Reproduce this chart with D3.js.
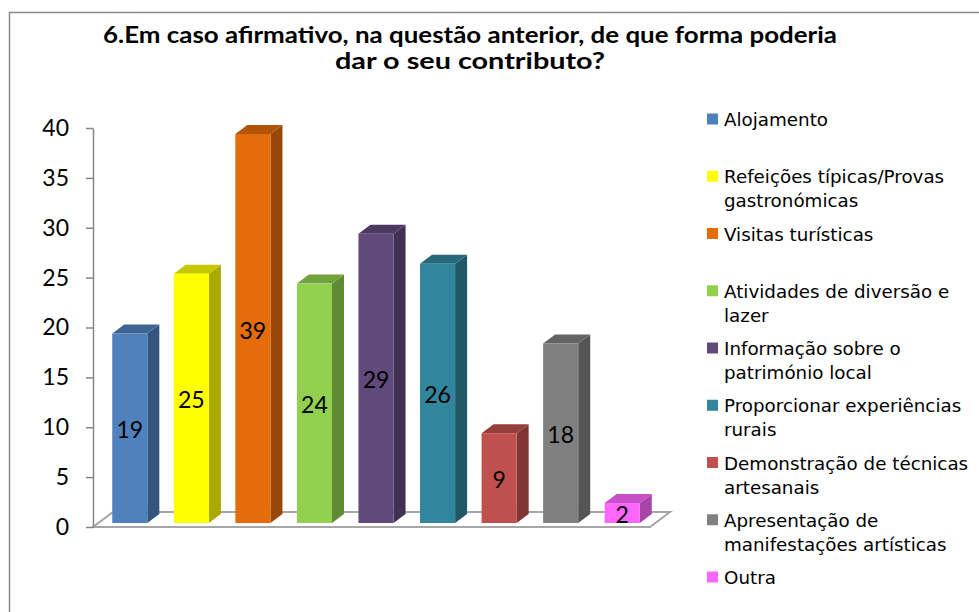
<!DOCTYPE html>
<html><head><meta charset="utf-8">
<script src="https://cdn.jsdelivr.net/npm/d3@7"></script>
<style>
html,body{margin:0;padding:0;background:#fff;}
svg{display:block;}
</style>
</head><body>
<svg id="chart" width="979" height="612"></svg>
<script>
const categories = [
  "Alojamento",
  "Refeições típicas/Provas gastronómicas",
  "Visitas turísticas",
  "Atividades de diversão e lazer",
  "Informação sobre o património local",
  "Proporcionar experiências rurais",
  "Demonstração de técnicas artesanais",
  "Apresentação de manifestações artísticas",
  "Outra"
];
const legendLines = [
  ["Alojamento"],
  ["Refeições típicas/Provas", "gastronómicas"],
  ["Visitas turísticas"],
  ["Atividades de diversão e", "lazer"],
  ["Informação sobre o", "património local"],
  ["Proporcionar experiências", "rurais"],
  ["Demonstração de técnicas", "artesanais"],
  ["Apresentação de", "manifestações artísticas"],
  ["Outra"]
];
const values = [19, 25, 39, 24, 29, 26, 9, 18, 2];
const colors = ["#4F81BD", "#FFFF00", "#E46C0A", "#92D050", "#604A7B", "#31859C", "#C0504D", "#808080", "#FF66FF"];
const yTicks = [0, 5, 10, 15, 20, 25, 30, 35, 40];
const titleLines = ["6.Em caso afirmativo, na questão anterior, de que forma poderia", "dar o seu contributo?"];

const svg = d3.select("#chart");

// frame
svg.append("path")
  .attr("d", "M9.5,612 L9.5,12.5 L979,12.5")
  .attr("fill", "none").attr("stroke", "#8a8a8a").attr("stroke-width", 1.5);

// title
svg.selectAll("text.title").data(titleLines).enter().append("text")
  .attr("class", "title")
  .attr("x", 470).attr("y", (d, i) => 43 + i * 26)
  .attr("text-anchor", "middle")
  .attr("font-family", "Lato, 'Open Sans', sans-serif")
  .attr("font-weight", "bold").attr("font-size", 22)
  .attr("fill", "#000")
  .attr("textLength", (d, i) => i === 0 ? 734 : 270)
  .attr("lengthAdjust", "spacingAndGlyphs")
  .text(d => d);

const y = d3.scaleLinear().domain([0, 40]).range([527, 128]);
const x = d3.scaleBand().domain(categories).range([99, 653]).paddingInner(0.43).paddingOuter(0.215);

const depthX = 12, depthY = 9, shift = 4;
const floorDX = 20, floorDY = 15;

// floor
const fx0 = 93, fx1 = 650, fy = y(0);
svg.append("path")
  .attr("d", `M${fx0},${fy} L${fx1},${fy} L${fx1 + floorDX},${fy - floorDY} L${fx0 + floorDX},${fy - floorDY} Z`)
  .attr("fill", "#fff").attr("stroke", "#a6a6a6").attr("stroke-width", 2);

// y axis
const axis = svg.append("g").attr("transform", "translate(93,0)")
  .call(d3.axisLeft(y).tickValues(yTicks).tickSize(7).tickSizeOuter(0).tickPadding(17));
axis.select(".domain").attr("stroke", "#868686").attr("stroke-width", 1.5);
axis.selectAll(".tick line").attr("stroke", "#868686").attr("stroke-width", 1.5);
axis.selectAll(".tick text")
  .attr("font-family", "Lato, 'Open Sans', sans-serif").attr("font-size", 23).attr("fill", "#000");

// bars
const bars = svg.append("g").selectAll("g").data(values).enter().append("g");
bars.each(function (v, i) {
  const g = d3.select(this);
  const x0 = x(categories[i]), w = x.bandwidth();
  const yb = y(0) - shift, yt = y(v) - shift;
  const c = d3.color(colors[i]);
  // side
  g.append("path")
    .attr("d", `M${x0 + w},${yt} L${x0 + w + depthX},${yt - depthY} L${x0 + w + depthX},${yb - depthY} L${x0 + w},${yb} Z`)
    .attr("fill", c.darker(1.15).formatHex());
  // top
  g.append("path")
    .attr("d", `M${x0},${yt} L${x0 + depthX},${yt - depthY} L${x0 + w + depthX},${yt - depthY} L${x0 + w},${yt} Z`)
    .attr("fill", c.darker(0.7).formatHex());
  // front
  g.append("rect")
    .attr("x", x0).attr("y", yt).attr("width", w).attr("height", yb - yt)
    .attr("fill", colors[i]);
  // label
  g.append("text")
    .attr("x", x0 + w / 2).attr("y", (yt + yb) / 2 + 2)
    .attr("dy", "0.35em")
    .attr("text-anchor", "middle")
    .attr("font-family", "Lato, 'Open Sans', sans-serif").attr("font-size", 23)
    .attr("fill", "#000")
    .text(v);
});

// legend
const leg = svg.append("g").selectAll("g").data(legendLines).enter().append("g")
  .attr("transform", (d, i) => `translate(707,${126 + i * 57.25})`);
leg.append("rect").attr("x", 0).attr("y", -12.5).attr("width", 11).attr("height", 11)
  .attr("fill", (d, i) => colors[i]);
leg.each(function (lines) {
  const g = d3.select(this);
  lines.forEach((t, j) => {
    g.append("text").attr("x", 17).attr("y", j * 24)
      .attr("font-family", "'DejaVu Sans', sans-serif").attr("font-size", 18.3)
      .attr("fill", "#000").text(t);
  });
});
</script>
</body></html>
